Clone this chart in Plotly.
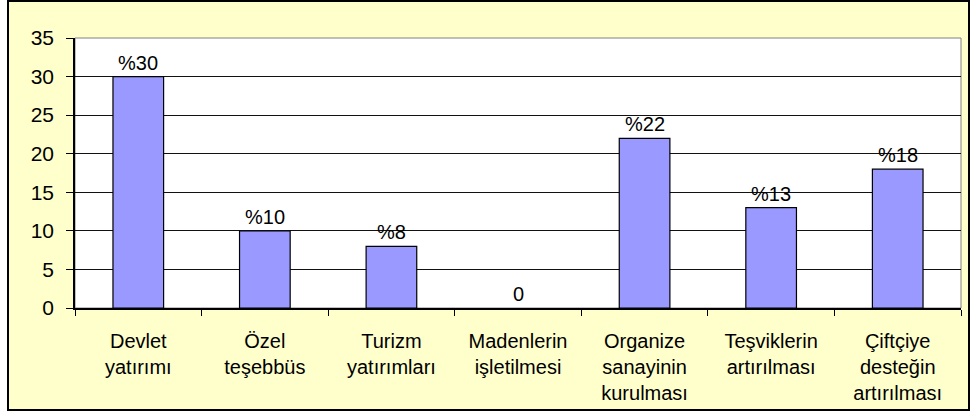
import plotly.graph_objects as go

categories = ["Devlet<br>yatırımı", "Özel<br>teşebbüs", "Turizm<br>yatırımları",
              "Madenlerin<br>işletilmesi", "Organize<br>sanayinin<br>kurulması",
              "Teşviklerin<br>artırılması", "Çiftçiye<br>desteğin<br>artırılması"]
values = [30, 10, 8, 0, 22, 13, 18]
labels = ["%30", "%10", "%8", "0", "%22", "%13", "%18"]
y_ticks = [0, 5, 10, 15, 20, 25, 30, 35]

FONT = "Liberation Sans, Arial, sans-serif"
W, H = 971, 414
L, R, T, B = 75, 10, 38, 106
pw, ph = W - L - R, H - T - B

fig = go.Figure()
fig.add_trace(go.Bar(
    x=categories, y=values,
    marker=dict(color="#9999FF",
                line=dict(color="black", width=[1.2 if v > 0 else 0 for v in values])),
    hoverinfo="skip",
))

for c, v, t in zip(categories, values, labels):
    fig.add_annotation(x=c, y=v, text=t, showarrow=False, yanchor="bottom",
                       yshift=1, font=dict(family=FONT, size=20, color="black"))

# outer frame (yellow with black border)
fig.add_shape(type="rect", xref="paper", yref="paper", layer="below",
              x0=(8 - L) / pw, x1=(969 - L) / pw,
              y0=(H - B - 410) / ph, y1=(H - B - 1) / ph,
              fillcolor="#FFFFCC", line=dict(color="black", width=2))
# plot area
fig.add_shape(type="rect", xref="x domain", yref="y domain", layer="below",
              x0=0, x1=1, y0=0, y1=1, fillcolor="white",
              line=dict(color="#808080", width=1))

fig.update_layout(
    width=W, height=H,
    margin=dict(l=L, r=R, t=T, b=B),
    paper_bgcolor="white", plot_bgcolor="white",
    bargap=0.6, showlegend=False,
    font=dict(family=FONT, size=20, color="black"),
    xaxis=dict(type="category", tickson="boundaries", ticks="outside", ticklen=6,
               tickcolor="black", showline=True, linecolor="black", linewidth=1.5,
               showgrid=False, tickfont=dict(size=20), ticklabelstandoff=14),
    yaxis=dict(range=[0, 35], tickvals=y_ticks, ticks="outside", ticklen=7,
               tickcolor="black", showline=True, linecolor="black", linewidth=1.5,
               showgrid=True, gridcolor="#111111", gridwidth=1.2, zeroline=False,
               tickfont=dict(size=21), ticklabelstandoff=8),
)

fig.write_html("out.html", config={"displayModeBar": False},
               post_script="document.body.style.margin='0';document.body.style.overflow='hidden';")
